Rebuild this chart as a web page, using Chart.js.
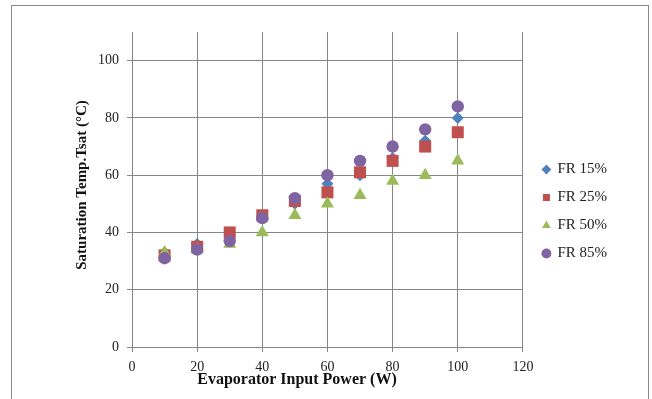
<!DOCTYPE html>
<html>
<head>
<meta charset="utf-8">
<script src="https://cdn.jsdelivr.net/npm/chart.js@4.4.0/dist/chart.umd.min.js"></script>
<style>
	html, body { margin: 0; padding: 0; background: #fff; }
	#wrap { width: 652px; height: 399px; position: relative; }
</style>
</head>
<body>
<div id="wrap"><canvas id="tsatChart"></canvas></div>
<script>
// Input power steps (W)
let power = [10, 20, 30, 40, 50, 60, 70, 80, 90, 100];

// Saturation temperature (°C) for each fill ratio
let fr15 = [33, 36, 40, 45, 50, 57, 60, 66, 72, 80];
let fr25 = [32, 35, 40, 46, 51, 54, 61, 65, 70, 75];
let fr50 = [33, 34, 36, 40, 46, 50, 53, 58, 60, 65];
let fr85 = [31, 34, 37, 45, 52, 60, 65, 70, 76, 84];

let seriesNames = ['FR 15%', 'FR 25%', 'FR 50%', 'FR 85%'];
let xTitle = 'Evaporator Input Power (W)';
let yTitle = 'Saturation Temp.Tsat (°C)';

const serif = '"Liberation Serif", "DejaVu Serif", serif';
const gridColor = '#868686';

Chart.defaults.font.family = serif;
Chart.defaults.font.size = 14;
Chart.defaults.color = '#222';

function points(ys) {
	return power.map((x, i) => ({ x: x, y: ys[i] }));
}

function series(label, ys, color, style, radius, order) {
	return {
		label: label,
		data: points(ys),
		backgroundColor: color,
		borderColor: color,
		borderWidth: 0,
		pointStyle: style,
		pointRadius: radius,
		pointHoverRadius: radius,
		order: order
	};
}

// Outer frame plus the two axis titles
const framePlugin = {
	id: 'frame',
	afterLayout(chart) {
		// nudge the legend a little away from the plot
		chart.legend.left += 7;
		chart.legend.right += 7;
	},
	afterDraw(chart) {
		let ctx = chart.ctx;
		ctx.save();
		ctx.strokeStyle = '#8a8a8a';
		ctx.lineWidth = 1;
		ctx.strokeRect(11.5, 5.5, 637, 420);

		ctx.fillStyle = '#111';
		ctx.textAlign = 'center';
		ctx.textBaseline = 'middle';
		ctx.font = 'bold 16px ' + serif;
		ctx.fillText(xTitle, 297, 380);

		ctx.font = 'bold 15px ' + serif;
		ctx.translate(82, 185);
		ctx.rotate(-Math.PI / 2);
		ctx.fillText(yTitle, 0, 0);
		ctx.restore();
	}
};

new Chart(document.getElementById('tsatChart'), {
	type: 'scatter',
	data: {
		datasets: [
			series(seriesNames[0], fr15, '#4F81BD', 'rectRot', 6, 3),
			series(seriesNames[1], fr25, '#C0504D', 'rect', 8.5, 2),
			series(seriesNames[2], fr50, '#9BBB59', 'triangle', 7.5, 1),
			series(seriesNames[3], fr85, '#8064A2', 'circle', 6.2, 0)
		]
	},
	options: {
		responsive: true,
		maintainAspectRatio: false,
		animation: false,
		layout: { padding: { top: 24, left: 0, right: 42, bottom: 0 } },
		plugins: {
			tooltip: { enabled: false },
			// blank spacer over the plot only, so the legend keeps its full height
			title: {
				display: true,
				text: ' ',
				fullSize: false,
				padding: 0,
				font: { size: 8, lineHeight: 1 }
			},
			legend: {
				position: 'right',
				labels: {
					usePointStyle: true,
					boxWidth: 7,
					boxHeight: 7,
					padding: 13,
					color: '#222',
					font: { size: 15 },
					sort: (a, b) => a.datasetIndex - b.datasetIndex
				}
			}
		},
		scales: {
			x: {
				type: 'linear',
				min: 0,
				max: 120,
				ticks: { stepSize: 20, padding: 7, color: '#222' },
				grid: { color: gridColor, tickLength: 5, tickColor: gridColor },
				border: { color: gridColor },
				afterFit: (scale) => { scale.height = 52; }
			},
			y: {
				min: 0,
				max: 110,
				ticks: { stepSize: 20, padding: 8, color: '#222' },
				grid: { color: gridColor, tickLength: 5, tickColor: gridColor },
				border: { color: gridColor },
				afterBuildTicks: (scale) => {
					scale.ticks = scale.ticks.filter(t => t.value % 20 === 0);
				},
				afterFit: (scale) => { scale.width = 132; }
			}
		}
	},
	plugins: [framePlugin]
});
</script>
</body>
</html>
